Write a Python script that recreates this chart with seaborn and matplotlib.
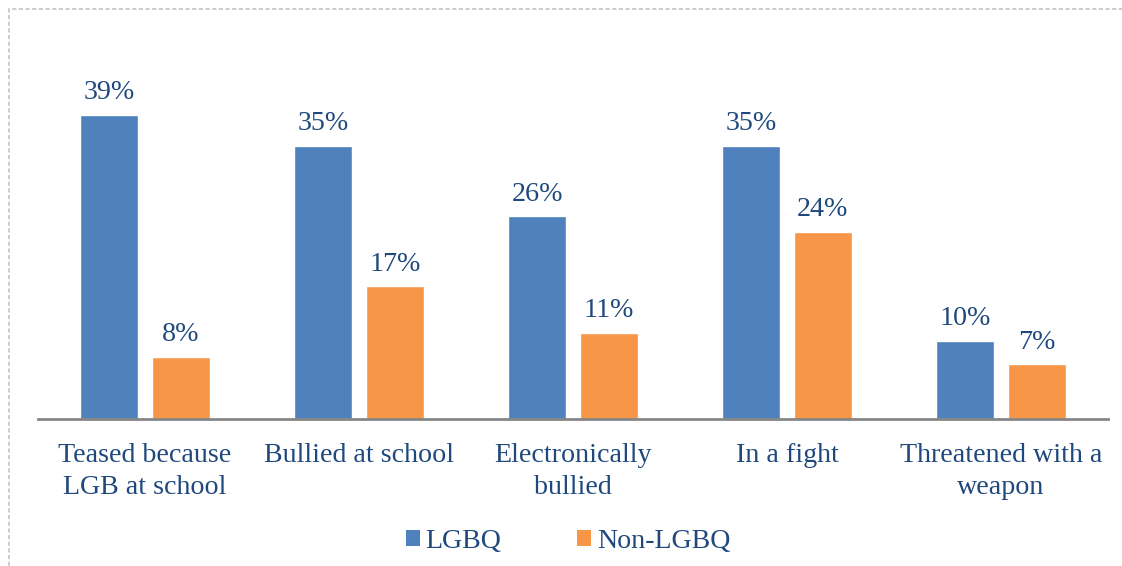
import matplotlib
matplotlib.use("Agg")
import matplotlib.pyplot as plt
from matplotlib.patches import Patch, Rectangle
import pandas as pd
import seaborn as sns

categories = ["Teased because\nLGB at school", "Bullied at school", "Electronically\nbullied",
              "In a fight", "Threatened with a\nweapon"]
groups = ["LGBQ", "Non-LGBQ"]
lgbq = [39, 35, 26, 35, 10]
non_lgbq = [8, 17, 11, 24, 7]

colors = {"LGBQ": "#4F81BD", "Non-LGBQ": "#F79646"}
text_color = "#1F497D"
font_size = 20.2

df = pd.DataFrame({
    "category": categories * 2,
    "group": [groups[0]] * len(categories) + [groups[1]] * len(categories),
    "value": lgbq + non_lgbq,
})

sns.set_style("white")
plt.rcParams["font.family"] = ["Liberation Serif", "DejaVu Serif"]

fig = plt.figure(figsize=(11.22, 5.66), dpi=100)
ax = fig.add_axes([38 / 1122, 0.2597, 1070 / 1122, 0.6201])

sns.barplot(data=df, x="category", y="value", hue="group", order=categories,
            hue_order=groups, palette=colors, width=0.668, gap=0.19,
            saturation=1, legend=False, ax=ax)

for container in ax.containers:
    ax.bar_label(container, labels=[f"{v:.0f}%" for v in container.datavalues],
                 padding=7, fontsize=font_size, color=text_color)

ax.set_ylim(0, 45)
ax.set_xlim(-0.5, len(categories) - 0.5)
ax.set_xlabel("")
ax.set_ylabel("")
ax.set_yticks([])
ax.tick_params(axis="x", length=0, pad=17.5, labelsize=font_size, labelcolor=text_color)
for lbl in ax.get_xticklabels():
    lbl.set_linespacing(1.36)
for side in ["top", "right", "left"]:
    ax.spines[side].set_visible(False)
ax.spines["bottom"].set_color("#868686")
ax.spines["bottom"].set_linewidth(2)

handles = [Patch(facecolor=colors[g], edgecolor="none", label=g) for g in groups]
leg = fig.legend(handles=handles, loc="center", bbox_to_anchor=(568 / 1122, 0.043),
                 ncol=2, frameon=False, fontsize=font_size, handlelength=0.5,
                 handleheight=0.5, handletextpad=0.2, columnspacing=2.7)
for t in leg.get_texts():
    t.set_color(text_color)

# dashed chart-area frame, running off the right and bottom edges
frame = Rectangle((9 / 1122, -0.2), 1.2, 1 - 9 / 566 + 0.2, transform=fig.transFigure,
                  fill=False, edgecolor="#c4c4c4", linewidth=1.2,
                  linestyle=(0, (2.5, 1.5)), zorder=-1)
fig.patches.append(frame)

fig.savefig("out.png", dpi=100)
